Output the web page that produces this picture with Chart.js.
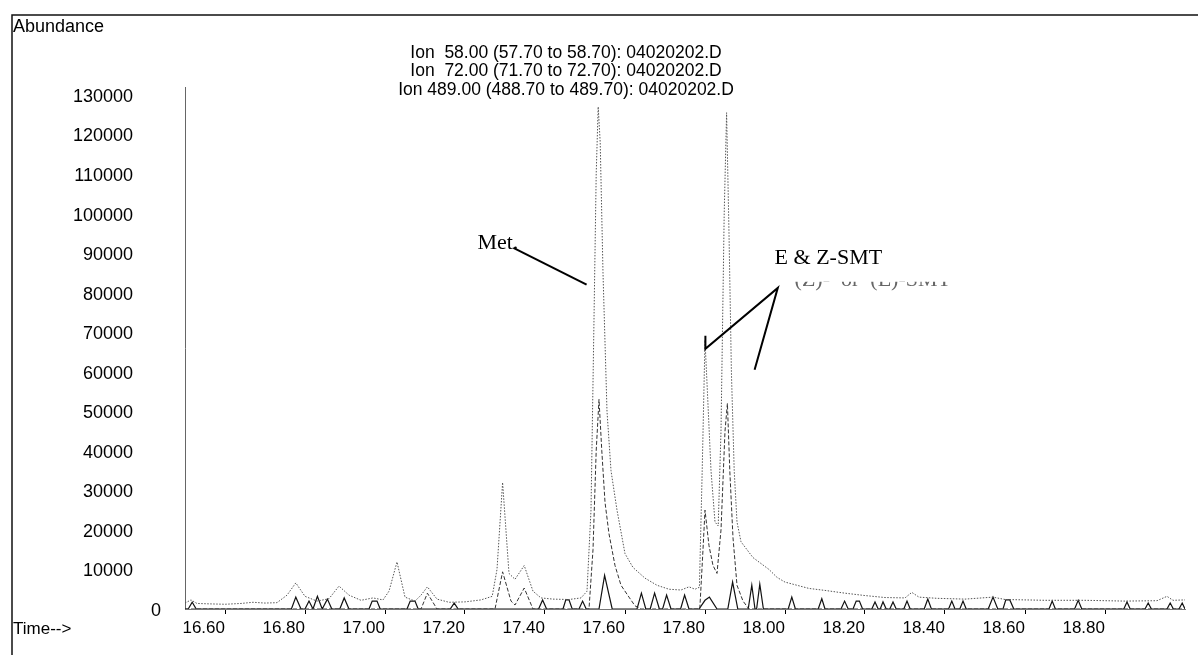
<!DOCTYPE html>
<html>
<head>
<meta charset="utf-8">
<script src="https://cdn.jsdelivr.net/npm/chart.js@4.4.1/dist/chart.umd.min.js"></script>
<style>
    html, body { margin: 0; padding: 0; background: #fff; }
    #Wrap { width: 1198px; height: 655px; position: relative; }
</style>
</head>
<body>
<div id="Wrap"><canvas id="Chrom"></canvas></div>
<script>
// ion traces (time in min, abundance)
const Times58 = [16.50, 16.515, 16.53, 16.56, 16.60, 16.64, 16.67, 16.70, 16.73, 16.755, 16.777, 16.80, 16.83, 16.86, 16.885, 16.91, 16.94, 16.97, 16.995, 17.01, 17.03, 17.05, 17.075, 17.09, 17.106, 17.13, 17.16, 17.20, 17.24, 17.268, 17.28, 17.294, 17.31, 17.325, 17.348, 17.37, 17.39, 17.42, 17.46, 17.49, 17.505, 17.515, 17.522, 17.528, 17.533, 17.538, 17.545, 17.555, 17.565, 17.58, 17.60, 17.62, 17.65, 17.68, 17.71, 17.74, 17.76, 17.775, 17.786, 17.793, 17.80, 17.806, 17.815, 17.825, 17.833, 17.84, 17.848, 17.854, 17.86, 17.866, 17.873, 17.88, 17.89, 17.905, 17.92, 17.94, 17.96, 17.98, 18.00, 18.03, 18.06, 18.10, 18.15, 18.20, 18.25, 18.30, 18.317, 18.335, 18.38, 18.45, 18.52, 18.55, 18.65, 18.75, 18.85, 18.93, 18.955, 18.97, 19.00]
const Abund58 = [1500, 2300, 1400, 1300, 1200, 1400, 1700, 1500, 1600, 3500, 6600, 3200, 2000, 2600, 5800, 3500, 2200, 2800, 2300, 4500, 11900, 3000, 2000, 3500, 5600, 2500, 1700, 1800, 2300, 3200, 10000, 32000, 9000, 7500, 11000, 4500, 2800, 2500, 2400, 2800, 4500, 25000, 70000, 110000, 127000, 118000, 85000, 50000, 35000, 25000, 14000, 10500, 7800, 6000, 5000, 4800, 5600, 5000, 5500, 35000, 68000, 55000, 35000, 22000, 21000, 45000, 100000, 125500, 95000, 60000, 35000, 22000, 17000, 15000, 13000, 11500, 10000, 8000, 6800, 6000, 5200, 4700, 4000, 3400, 2900, 2800, 4200, 3000, 2700, 2500, 3000, 2400, 2200, 2200, 2000, 2100, 3200, 2200, 2300]

const Times72 = [16.50, 17.09, 17.106, 17.13, 17.275, 17.294, 17.315, 17.325, 17.348, 17.37, 17.51, 17.52, 17.528, 17.535, 17.542, 17.55, 17.56, 17.575, 17.59, 17.61, 17.625, 17.64, 17.787, 17.795, 17.80, 17.81, 17.82, 17.83, 17.84, 17.85, 17.856, 17.862, 17.87, 17.88, 17.895, 17.91, 19.00]
const Abund72 = [0, 0, 4000, 0, 0, 9400, 2000, 1000, 5300, 0, 0, 15000, 40000, 53000, 40000, 27000, 19000, 11000, 6000, 3000, 800, 0, 0, 15000, 25000, 16000, 11000, 9000, 20000, 45000, 52000, 35000, 18000, 6000, 2000, 0, 0]

const Times489 = [16.50, 16.508, 16.518, 16.528, 16.766, 16.777, 16.79, 16.80, 16.81, 16.82, 16.831, 16.843, 16.856, 16.867, 16.887, 16.898, 16.91, 16.96, 16.968, 16.98, 16.988, 17.055, 17.063, 17.075, 17.083, 17.163, 17.173, 17.183, 17.384, 17.394, 17.404, 17.445, 17.452, 17.46, 17.468, 17.485, 17.494, 17.503, 17.535, 17.549, 17.568, 17.63, 17.641, 17.652, 17.663, 17.674, 17.686, 17.694, 17.704, 17.715, 17.739, 17.749, 17.76, 17.785, 17.80, 17.811, 17.83, 17.857, 17.869, 17.882, 17.908, 17.917, 17.925, 17.929, 17.937, 17.946, 18.008, 18.017, 18.026, 18.083, 18.092, 18.10, 18.14, 18.149, 18.158, 18.17, 18.178, 18.186, 18.194, 18.217, 18.225, 18.233, 18.238, 18.245, 18.253, 18.262, 18.27, 18.278, 18.297, 18.305, 18.313, 18.348, 18.357, 18.366, 18.409, 18.417, 18.425, 18.437, 18.445, 18.453, 18.508, 18.52, 18.532, 18.545, 18.552, 18.562, 18.572, 18.66, 18.668, 18.676, 18.724, 18.733, 18.742, 18.847, 18.855, 18.863, 18.90, 18.908, 18.916, 18.955, 18.963, 18.971, 18.985, 18.993, 19.00]
const Abund489 = [0, 0, 1700, 0, 0, 3000, 0, 0, 2000, 0, 3200, 0, 2500, 0, 0, 2800, 0, 0, 2000, 2000, 0, 0, 2000, 2000, 0, 0, 1500, 0, 0, 2300, 0, 0, 2300, 2300, 0, 0, 2000, 0, 0, 8500, 0, 0, 4000, 0, 0, 4000, 0, 0, 3500, 0, 0, 3500, 0, 0, 2200, 3000, 0, 0, 6800, 0, 0, 6000, 0, 0, 6300, 0, 0, 3000, 0, 0, 2600, 0, 0, 2000, 0, 0, 2000, 2000, 0, 0, 1800, 0, 0, 1800, 0, 0, 1800, 0, 0, 2000, 0, 0, 2500, 0, 0, 2000, 0, 0, 2000, 0, 0, 3000, 0, 0, 2300, 2300, 0, 0, 2000, 0, 0, 2200, 0, 0, 1800, 0, 0, 1500, 0, 0, 1500, 0, 0, 1500, 0]

const TimeTicks = [16.6, 16.8, 17.0, 17.2, 17.4, 17.6, 17.8, 18.0, 18.2, 18.4, 18.6, 18.8]
const AbundTicks = [0, 10000, 20000, 30000, 40000, 50000, 60000, 70000, 80000, 90000, 100000, 110000, 120000, 130000]

const TitleLines = ['Ion  58.00 (57.70 to 58.70): 04020202.D', 'Ion  72.00 (71.70 to 72.70): 04020202.D', 'Ion 489.00 (488.70 to 489.70): 04020202.D']

// callouts, in data units
const NoteMet = { text: 'Met.', t: 17.231, a: 92600 }
const NoteSmt = { text: 'E & Z-SMT', t: 17.974, a: 88800 }
const PointerMet = [[17.321, 91300], [17.504, 82000]]
const PointerSmt = [[17.801, 69100], [17.801, 65800], [17.982, 81200], [17.924, 60500]]

function Pairs(Ts, As) {
    return Ts.map((t, i) => ({ x: t, y: As[i] }))
}

const SansFont = '"Liberation Sans", Arial, sans-serif'
const SerifFont = '"Liberation Serif", "Times New Roman", serif'

const Decor = {
    id: 'decor',
    afterDraw(chart) {
        let ctx = chart.ctx
        let xs = chart.scales.x, ys = chart.scales.y
        ctx.save()
        // frame
        ctx.strokeStyle = '#111'
        ctx.lineWidth = 1.5
        ctx.beginPath()
        ctx.moveTo(12, 655)
        ctx.lineTo(12, 15)
        ctx.lineTo(1198, 15)
        ctx.stroke()

        ctx.fillStyle = '#000'
        ctx.font = '18px ' + SansFont
        ctx.textBaseline = 'middle'
        ctx.textAlign = 'left'
        ctx.fillText('Abundance', 13, 27)
        ctx.font = '17px ' + SansFont
        ctx.fillText('Time-->', 13, 629)

        ctx.font = '17.5px ' + SansFont
        ctx.textAlign = 'center'
        TitleLines.forEach((line, i) => ctx.fillText(line, 566, 53 + i * 18.5))

        // y labels
        ctx.font = '18px ' + SansFont
        ctx.textAlign = 'right'
        for (let v of AbundTicks) {
            let y = ys.getPixelForValue(v)
            ctx.fillText(String(v), v === 0 ? 161 : 133, y + 2)
        }

        // callouts
        ctx.font = '22px ' + SerifFont
        ctx.textAlign = 'left'
        ctx.fillText(NoteMet.text, xs.getPixelForValue(NoteMet.t), ys.getPixelForValue(NoteMet.a))
        ctx.fillText(NoteSmt.text, xs.getPixelForValue(NoteSmt.t), ys.getPixelForValue(NoteSmt.a))

        // faded line of text under the SMT label
        let gx = xs.getPixelForValue(18.024), gy = ys.getPixelForValue(82000)
        ctx.save()
        ctx.beginPath()
        ctx.rect(gx - 5, gy - 3, 160, 12)
        ctx.clip()
        ctx.fillStyle = '#666'
        ctx.fillText('(Z)-  or  (E)-SMT', gx, gy - 5)
        ctx.restore()

        ctx.strokeStyle = '#000'
        ctx.lineWidth = 2
        for (let path of [PointerMet, PointerSmt]) {
            ctx.beginPath()
            path.forEach(([t, a], i) => {
                let px = xs.getPixelForValue(t), py = ys.getPixelForValue(a)
                if (i === 0) ctx.moveTo(px, py)
                else ctx.lineTo(px, py)
            })
            ctx.stroke()
        }
        ctx.restore()
    }
}

new Chart(document.getElementById('Chrom'), {
    type: 'line',
    data: {
        datasets: [{
            label: 'Ion 58.00',
            data: Pairs(Times58, Abund58),
            borderColor: '#555',
            borderWidth: 1,
            borderDash: [1.5, 1.5]
        }, {
            label: 'Ion 72.00',
            data: Pairs(Times72, Abund72),
            borderColor: '#333',
            borderWidth: 1,
            borderDash: [4, 2]
        }, {
            label: 'Ion 489.00',
            data: Pairs(Times489, Abund489),
            borderColor: '#111',
            borderWidth: 1.2
        }]
    },
    plugins: [Decor],
    options: {
        responsive: true,
        maintainAspectRatio: false,
        animation: false,
        devicePixelRatio: 1,
        layout: { padding: { left: 0, top: 87, right: 13, bottom: 0 } },
        elements: { point: { radius: 0 }, line: { tension: 0 } },
        plugins: { legend: { display: false }, tooltip: { enabled: false } },
        scales: {
            x: {
                type: 'linear',
                min: 16.5,
                max: 19.0,
                afterBuildTicks: s => { s.ticks = TimeTicks.map(v => ({ value: v })) },
                afterFit: s => { s.height = 46 },
                ticks: {
                    align: 'end',
                    color: '#000',
                    padding: 4,
                    font: { size: 17, family: SansFont },
                    callback: v => Number(v).toFixed(2)
                },
                grid: { drawOnChartArea: false, drawTicks: true, tickLength: 5, color: '#000' },
                border: { display: true, color: '#777', dash: [2, 2] }
            },
            y: {
                min: 0,
                max: 132000,
                afterFit: s => { s.width = 185 },
                ticks: { display: false },
                grid: { display: false },
                border: { display: true, color: '#666', dash: [1, 3] }
            }
        }
    }
})
</script>
</body>
</html>
